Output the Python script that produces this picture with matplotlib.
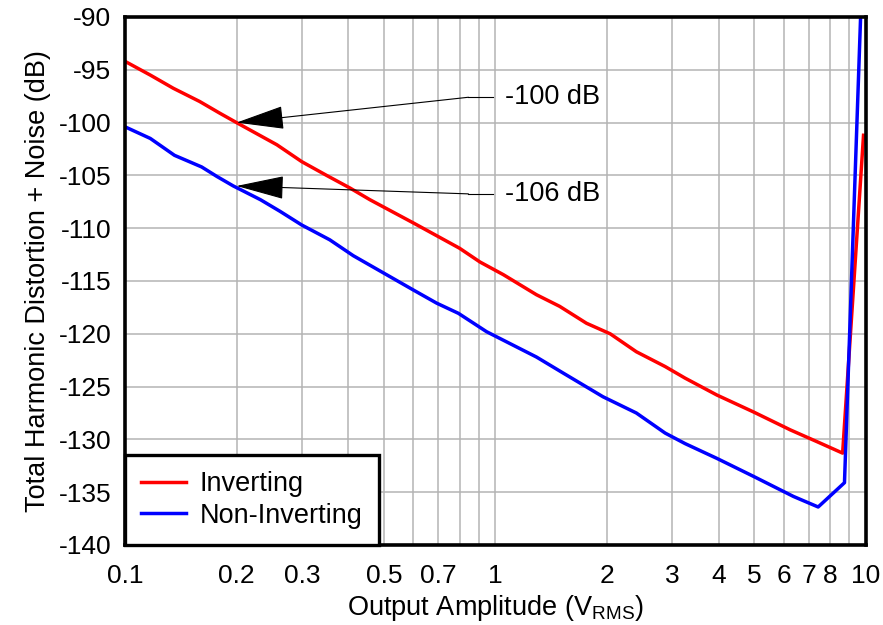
import numpy as np
import matplotlib
matplotlib.use('Agg')
import matplotlib.pyplot as plt
from matplotlib.ticker import FixedLocator, NullFormatter

plt.rcParams['font.family'] = ['Liberation Sans', 'DejaVu Sans']
plt.rcParams['mathtext.fontset'] = 'custom'
plt.rcParams['mathtext.rm'] = 'Liberation Sans'
plt.rcParams['mathtext.it'] = 'Liberation Sans:italic'
plt.rcParams['axes.unicode_minus'] = False

# THD+N vs output amplitude, inverting / non-inverting
inv_x = [0.1, 0.117, 0.135, 0.159, 0.18, 0.2, 0.257, 0.30, 0.35, 0.405, 0.458, 0.60,
         0.80, 0.908, 1.05, 1.29, 1.49, 1.76, 2.04, 2.40, 2.87, 3.25, 3.96, 4.97,
         6.25, 7.36, 8.65, 9.85]
inv_db = [-94.2, -95.5, -96.75, -98.0, -99.1, -100.0, -102.1, -103.7, -105.0, -106.2,
          -107.3, -109.5, -111.9, -113.2, -114.4, -116.3, -117.4, -119.0, -120.0,
          -121.7, -123.1, -124.2, -125.8, -127.4, -129.1, -130.2, -131.3, -101.2]

noninv_x = [0.1, 0.117, 0.136, 0.161, 0.177, 0.196, 0.232, 0.262, 0.30, 0.357, 0.413,
            0.458, 0.60, 0.694, 0.794, 0.946, 1.29, 1.52, 1.95, 2.40, 2.87, 3.25,
            3.96, 4.97, 6.37, 7.43, 8.75, 9.85]
noninv_db = [-100.4, -101.5, -103.1, -104.2, -105.1, -106.0, -107.3, -108.4, -109.7,
             -111.1, -112.6, -113.5, -115.85, -117.1, -118.06, -119.8, -122.2, -123.7,
             -125.96, -127.5, -129.4, -130.4, -131.8, -133.5, -135.4, -136.4, -134.1,
             -82.0]

xtick_vals = [0.1, 0.2, 0.3, 0.5, 0.7, 1, 2, 3, 4, 5, 6, 7, 8, 10]
xtick_labels = ['0.1', '0.2', '0.3', '0.5', '0.7', '1', '2', '3', '4', '5', '6', '7', '8', '10']
ytick_vals = [-140, -135, -130, -125, -120, -115, -110, -105, -100, -95, -90]

# callouts: (label, arrow tip x, tip y, bend x, text y)
callouts = [('-100 dB', 0.2, -100.0, 0.845, -97.6),
            ('-106 dB', 0.2, -106.0, 0.845, -106.75)]

fig = plt.figure(figsize=(8.83, 6.25), dpi=100)
ax = fig.add_axes([0.1416, 0.128, 0.8391, 0.8448])

ax.plot(inv_x, inv_db, color='#ff0000', lw=2.5, label='Inverting', zorder=3)
ax.plot(noninv_x, noninv_db, color='#0000ff', lw=2.5, label='Non-Inverting', zorder=4)

ax.set_xscale('log')
ax.set_xlim(0.1, 10)
ax.set_ylim(-140, -90)

grid_x = [m * 10.0 ** e for e in (-1, 0) for m in range(1, 10)] + [10]
for gx in grid_x:
    ax.axvline(gx, color='#b4b4b4', lw=1.1, zorder=1)
for gy in ytick_vals:
    ax.axhline(gy, color='#b4b4b4', lw=1.1, zorder=1)

ax.xaxis.set_major_locator(FixedLocator(xtick_vals))
ax.xaxis.set_minor_locator(FixedLocator([]))
ax.xaxis.set_minor_formatter(NullFormatter())
ax.set_xticklabels(xtick_labels)
ax.set_yticks(ytick_vals)
ax.tick_params(axis='both', which='both', length=0, labelsize=19)
ax.tick_params(axis='x', pad=14)
ax.tick_params(axis='y', pad=10)

for sp in ax.spines.values():
    sp.set_linewidth(2.6)
    sp.set_zorder(6)

ax.set_xlabel('Output Amplitude (V$_{\\mathrm{RMS}}$)', fontsize=19.5, labelpad=3)
ax.set_ylabel('Total Harmonic Distortion + Noise (dB)', fontsize=19.5, labelpad=5)

for label, tx, ty, bx, yt in callouts:
    ax.plot([bx, 0.985], [yt, yt], color='black', lw=0.8, zorder=5)
    ax.annotate('', xy=(tx, ty), xytext=(bx, yt),
                arrowprops=dict(arrowstyle='-|>,head_length=31,head_width=7.5',
                                mutation_scale=1, fc='black', ec='black', lw=0.8,
                                shrinkA=0, shrinkB=0), zorder=5)
    ax.text(1.06, yt, label, fontsize=19.5, va='center', ha='left', zorder=5)

leg = ax.legend(loc='lower left', borderaxespad=0, fancybox=False, fontsize=19.5,
                handlelength=1.65, handletextpad=0.5, borderpad=0.6, labelspacing=0.2,
                framealpha=1)
leg.get_frame().set_edgecolor('black')
leg.get_frame().set_linewidth(2.4)
leg.set_zorder(7)

fig.savefig('out.png', dpi=100)
